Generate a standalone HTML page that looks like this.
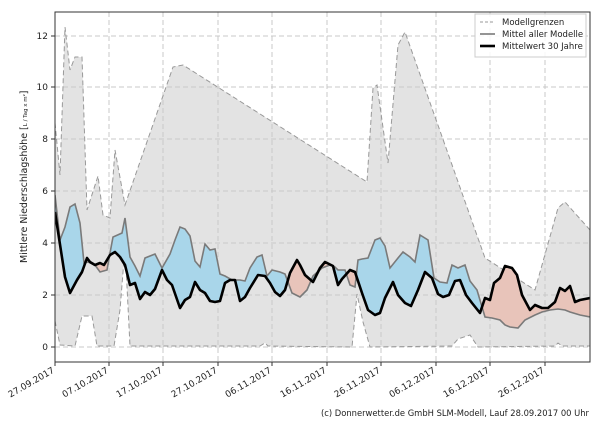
<!DOCTYPE html>
<html><head><style>
body{margin:0;background:#fff}
text{font-family:"DejaVu Sans","Liberation Sans",sans-serif;fill:#222}
</style></head><body>
<svg width="600" height="420" xmlns="http://www.w3.org/2000/svg">
<defs>
<clipPath id="plot"><rect x="55" y="12" width="535" height="350"/></clipPath>
<clipPath id="above"><polygon points="0,0 600,0 600,298 590,298 580,300 575,302 570,286 565,291 560,288 555,302 548,308 542,308 535,305 530,310 522,295 517,275 512,268 505,266 500,278 494,283 490,300 485,298 480,313 472,303 466,295 460,280 455,281 449,295 443,297 438,294 432,278 425,272 418,290 411,306 405,303 398,295 393,282 385,298 380,313 375,315 368,310 362,293 355,272 350,270 342,279 338,285 333,266 325,262 320,268 313,282 305,275 300,265 297,260 290,273 285,290 280,296 275,292 270,283 265,276 258,275 250,288 245,297 240,301 235,280 230,280 225,283 220,301 215,302 210,301 205,293 200,290 195,282 190,297 185,300 180,308 172,285 167,280 162,270 155,289 150,295 145,292 140,299 135,283 130,285 125,265 120,257 115,252 110,255 104,265 100,263 95,265 90,262 87,258 82,272 77,280 70,293 65,277 55,212 0,212"/></clipPath>
<clipPath id="below"><polygon points="0,420 600,420 600,298 590,298 580,300 575,302 570,286 565,291 560,288 555,302 548,308 542,308 535,305 530,310 522,295 517,275 512,268 505,266 500,278 494,283 490,300 485,298 480,313 472,303 466,295 460,280 455,281 449,295 443,297 438,294 432,278 425,272 418,290 411,306 405,303 398,295 393,282 385,298 380,313 375,315 368,310 362,293 355,272 350,270 342,279 338,285 333,266 325,262 320,268 313,282 305,275 300,265 297,260 290,273 285,290 280,296 275,292 270,283 265,276 258,275 250,288 245,297 240,301 235,280 230,280 225,283 220,301 215,302 210,301 205,293 200,290 195,282 190,297 185,300 180,308 172,285 167,280 162,270 155,289 150,295 145,292 140,299 135,283 130,285 125,265 120,257 115,252 110,255 104,265 100,263 95,265 90,262 87,258 82,272 77,280 70,293 65,277 55,212 0,212"/></clipPath>
</defs>
<g clip-path="url(#plot)">
<polygon fill="#e3e3e3" points="55,123 60,175 65,27 70,70 75,57 82,57 87,210 98,176 103,215 110,218 115,150 125,205 173,67 183,65 367,182 373,88 377,85 388,163 398,45 405,32 485,258 535,290 558,208 565,202 590,230 590,346 562,346 558,343 555,346 478,347 470,335 458,339 452,346 370,347 363,322 357,294 352,347 268,346 265,343 260,346 130,346 125,247 120,310 114,346 97,346 92,316 82,316 75,346 60,345 55,321"/>
<g stroke="#c8c8c8" stroke-dasharray="5,3" stroke-width="1">
<line x1="55" x2="590" y1="347" y2="347"/><line x1="55" x2="590" y1="295" y2="295"/><line x1="55" x2="590" y1="243" y2="243"/><line x1="55" x2="590" y1="191" y2="191"/><line x1="55" x2="590" y1="139" y2="139"/><line x1="55" x2="590" y1="87" y2="87"/><line x1="55" x2="590" y1="36" y2="36"/>
<line y1="12" y2="362" x1="109" x2="109"/><line y1="12" y2="362" x1="163" x2="163"/><line y1="12" y2="362" x1="218" x2="218"/><line y1="12" y2="362" x1="272" x2="272"/><line y1="12" y2="362" x1="327" x2="327"/><line y1="12" y2="362" x1="381" x2="381"/><line y1="12" y2="362" x1="436" x2="436"/><line y1="12" y2="362" x1="490" x2="490"/><line y1="12" y2="362" x1="545" x2="545"/>
</g>
<polyline fill="none" stroke="#999" stroke-width="1" stroke-dasharray="5,3" points="55,123 60,175 65,27 70,70 75,57 82,57 87,210 98,176 103,215 110,218 115,150 125,205 173,67 183,65 367,182 373,88 377,85 388,163 398,45 405,32 485,258 535,290 558,208 565,202 590,230"/>
<polyline fill="none" stroke="#999" stroke-width="1" stroke-dasharray="5,3" points="55,321 60,345 75,346 82,316 92,316 97,346 114,346 120,310 125,247 130,346 260,346 265,343 268,346 352,347 357,294 363,322 370,347 452,346 458,339 470,335 478,347 555,346 558,343 562,346 590,346"/>
<polygon id="between" fill="#a9d6ea" clip-path="url(#above)" points="55,195 60,240 65,227 70,207 75,204 80,223 84,263 88,262 95,265 100,272 107,270 110,253 113,237 122,233 125,218 130,257 135,266 140,276 145,258 150,256 155,254 162,268 170,254 175,240 180,227 185,229 190,236 195,261 200,267 205,244 210,250 215,249 220,274 225,276 232,280 240,280 245,281 250,268 257,257 262,255 267,276 272,270 280,272 285,274 292,293 300,297 307,290 313,276 322,268 330,265 335,267 338,270 345,270 350,285 355,287 358,260 362,259 368,258 375,240 380,238 385,246 390,268 398,258 403,252 410,257 415,262 420,235 428,240 434,278 440,282 447,283 452,265 458,268 465,265 470,281 477,290 485,317 492,318 500,320 505,325 510,327 518,328 525,320 535,315 542,312 550,310 558,309 565,310 570,312 580,315 590,317 590,298 580,300 575,302 570,286 565,291 560,288 555,302 548,308 542,308 535,305 530,310 522,295 517,275 512,268 505,266 500,278 494,283 490,300 485,298 480,313 472,303 466,295 460,280 455,281 449,295 443,297 438,294 432,278 425,272 418,290 411,306 405,303 398,295 393,282 385,298 380,313 375,315 368,310 362,293 355,272 350,270 342,279 338,285 333,266 325,262 320,268 313,282 305,275 300,265 297,260 290,273 285,290 280,296 275,292 270,283 265,276 258,275 250,288 245,297 240,301 235,280 230,280 225,283 220,301 215,302 210,301 205,293 200,290 195,282 190,297 185,300 180,308 172,285 167,280 162,270 155,289 150,295 145,292 140,299 135,283 130,285 125,265 120,257 115,252 110,255 104,265 100,263 95,265 90,262 87,258 82,272 77,280 70,293 65,277 55,212"/>
<polygon fill="#e8c4ba" clip-path="url(#below)" points="55,195 60,240 65,227 70,207 75,204 80,223 84,263 88,262 95,265 100,272 107,270 110,253 113,237 122,233 125,218 130,257 135,266 140,276 145,258 150,256 155,254 162,268 170,254 175,240 180,227 185,229 190,236 195,261 200,267 205,244 210,250 215,249 220,274 225,276 232,280 240,280 245,281 250,268 257,257 262,255 267,276 272,270 280,272 285,274 292,293 300,297 307,290 313,276 322,268 330,265 335,267 338,270 345,270 350,285 355,287 358,260 362,259 368,258 375,240 380,238 385,246 390,268 398,258 403,252 410,257 415,262 420,235 428,240 434,278 440,282 447,283 452,265 458,268 465,265 470,281 477,290 485,317 492,318 500,320 505,325 510,327 518,328 525,320 535,315 542,312 550,310 558,309 565,310 570,312 580,315 590,317 590,298 580,300 575,302 570,286 565,291 560,288 555,302 548,308 542,308 535,305 530,310 522,295 517,275 512,268 505,266 500,278 494,283 490,300 485,298 480,313 472,303 466,295 460,280 455,281 449,295 443,297 438,294 432,278 425,272 418,290 411,306 405,303 398,295 393,282 385,298 380,313 375,315 368,310 362,293 355,272 350,270 342,279 338,285 333,266 325,262 320,268 313,282 305,275 300,265 297,260 290,273 285,290 280,296 275,292 270,283 265,276 258,275 250,288 245,297 240,301 235,280 230,280 225,283 220,301 215,302 210,301 205,293 200,290 195,282 190,297 185,300 180,308 172,285 167,280 162,270 155,289 150,295 145,292 140,299 135,283 130,285 125,265 120,257 115,252 110,255 104,265 100,263 95,265 90,262 87,258 82,272 77,280 70,293 65,277 55,212"/>
<polyline fill="none" stroke="#7a7a7a" stroke-width="1.6" points="55,195 60,240 65,227 70,207 75,204 80,223 84,263 88,262 95,265 100,272 107,270 110,253 113,237 122,233 125,218 130,257 135,266 140,276 145,258 150,256 155,254 162,268 170,254 175,240 180,227 185,229 190,236 195,261 200,267 205,244 210,250 215,249 220,274 225,276 232,280 240,280 245,281 250,268 257,257 262,255 267,276 272,270 280,272 285,274 292,293 300,297 307,290 313,276 322,268 330,265 335,267 338,270 345,270 350,285 355,287 358,260 362,259 368,258 375,240 380,238 385,246 390,268 398,258 403,252 410,257 415,262 420,235 428,240 434,278 440,282 447,283 452,265 458,268 465,265 470,281 477,290 485,317 492,318 500,320 505,325 510,327 518,328 525,320 535,315 542,312 550,310 558,309 565,310 570,312 580,315 590,317"/>
<polyline fill="none" stroke="#000" stroke-width="2.6" stroke-linejoin="round" points="55,212 65,277 70,293 77,280 82,272 87,258 90,262 95,265 100,263 104,265 110,255 115,252 120,257 125,265 130,285 135,283 140,299 145,292 150,295 155,289 162,270 167,280 172,285 180,308 185,300 190,297 195,282 200,290 205,293 210,301 215,302 220,301 225,283 230,280 235,280 240,301 245,297 250,288 258,275 265,276 270,283 275,292 280,296 285,290 290,273 297,260 300,265 305,275 313,282 320,268 325,262 333,266 338,285 342,279 350,270 355,272 362,293 368,310 375,315 380,313 385,298 393,282 398,295 405,303 411,306 418,290 425,272 432,278 438,294 443,297 449,295 455,281 460,280 466,295 472,303 480,313 485,298 490,300 494,283 500,278 505,266 512,268 517,275 522,295 530,310 535,305 542,308 548,308 555,302 560,288 565,291 570,286 575,302 580,300 590,298"/>
</g>
<rect x="55" y="12" width="535" height="350" fill="none" stroke="#333" stroke-width="1"/>
<g stroke="#333"><line x1="51" x2="55" y1="347" y2="347"/><line x1="51" x2="55" y1="295" y2="295"/><line x1="51" x2="55" y1="243" y2="243"/><line x1="51" x2="55" y1="191" y2="191"/><line x1="51" x2="55" y1="139" y2="139"/><line x1="51" x2="55" y1="87" y2="87"/><line x1="51" x2="55" y1="36" y2="36"/>
<line y1="362" y2="366" x1="55" x2="55"/><line y1="362" y2="366" x1="109" x2="109"/><line y1="362" y2="366" x1="163" x2="163"/><line y1="362" y2="366" x1="218" x2="218"/><line y1="362" y2="366" x1="272" x2="272"/><line y1="362" y2="366" x1="327" x2="327"/><line y1="362" y2="366" x1="381" x2="381"/><line y1="362" y2="366" x1="436" x2="436"/><line y1="362" y2="366" x1="490" x2="490"/><line y1="362" y2="366" x1="545" x2="545"/></g>
<g font-size="9" text-anchor="end">
<text x="48" y="350">0</text><text x="48" y="298">2</text><text x="48" y="246">4</text><text x="48" y="194">6</text><text x="48" y="142">8</text><text x="48" y="90">10</text><text x="48" y="39">12</text>
<text transform="translate(55,372) rotate(-30)">27.09.2017</text>
<text transform="translate(109,372) rotate(-30)">07.10.2017</text>
<text transform="translate(163,372) rotate(-30)">17.10.2017</text>
<text transform="translate(218,372) rotate(-30)">27.10.2017</text>
<text transform="translate(272,372) rotate(-30)">06.11.2017</text>
<text transform="translate(327,372) rotate(-30)">16.11.2017</text>
<text transform="translate(381,372) rotate(-30)">26.11.2017</text>
<text transform="translate(436,372) rotate(-30)">06.12.2017</text>
<text transform="translate(490,372) rotate(-30)">16.12.2017</text>
<text transform="translate(545,372) rotate(-30)">26.12.2017</text>
</g>
<text transform="translate(27,263) rotate(-90)" font-size="9.5">Mittlere Niederschlagshöhe [<tspan font-size="5.5">L / Tag x m²</tspan>]</text>
<rect x="475" y="14" width="111" height="43" fill="#fff" fill-opacity="0.85" stroke="#ccc"/>
<line x1="480" x2="495" y1="22" y2="22" stroke="#999" stroke-dasharray="3,2"/>
<line x1="480" x2="495" y1="34" y2="34" stroke="#7a7a7a" stroke-width="1.6"/>
<line x1="480" x2="495" y1="46" y2="46" stroke="#000" stroke-width="2.6"/>
<g font-size="8.5"><text x="502" y="25">Modellgrenzen</text><text x="502" y="37">Mittel aller Modelle</text><text x="502" y="49">Mittelwert 30 Jahre</text></g>
<text x="321" y="416" font-size="9" textLength="268" lengthAdjust="spacingAndGlyphs">(c) Donnerwetter.de GmbH SLM-Modell, Lauf 28.09.2017 00 Uhr</text>
</svg>
</body></html>
